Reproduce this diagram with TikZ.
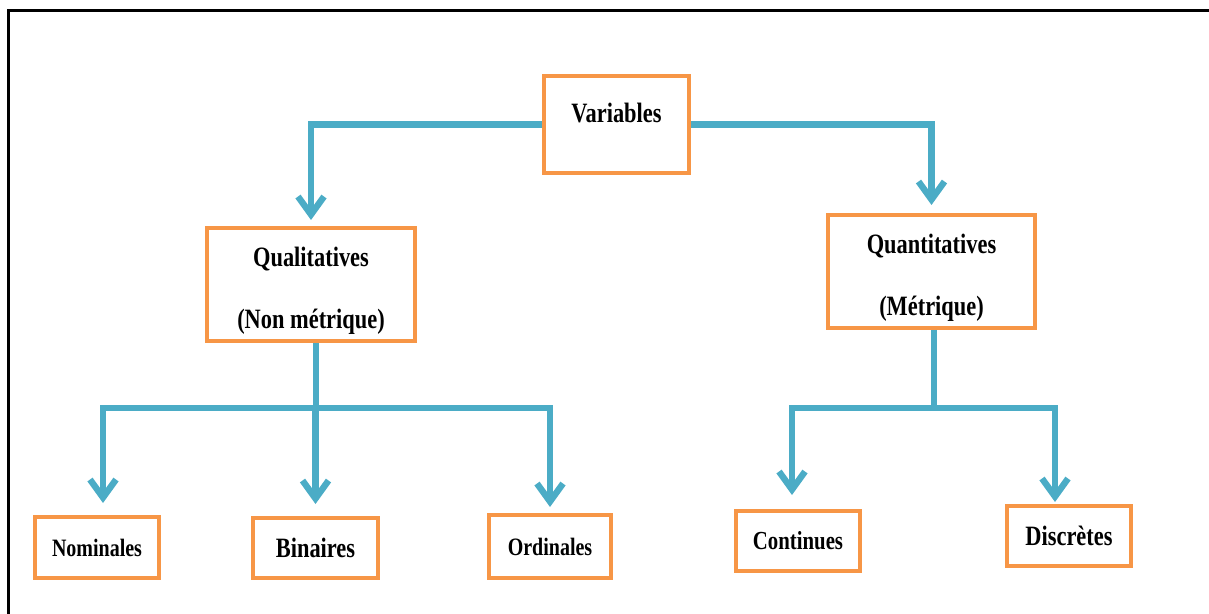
\documentclass[tikz,border=0pt]{standalone}
\usepackage{fontspec}
\setmainfont{Liberation Serif}[FakeStretch=0.8]
\usepackage{tikz}
\usetikzlibrary{arrows.meta}

\definecolor{boxorange}{HTML}{F79646}
\definecolor{linkblue}{HTML}{4BACC6}

\begin{document}
\begin{tikzpicture}[x=0.5pt, y=-0.5pt,
    box/.style = {draw=boxorange, line width=2pt, fill=white, inner sep=0pt, align=center, font=\bfseries},
    big/.style = {font=\bfseries\fontsize{14}{17}\selectfont},
    small/.style = {font=\bfseries\fontsize{12.5}{15}\selectfont},
    line/.style = {draw=linkblue, line width=3.2pt},
    link/.style = {line, -{Straight Barb[length=9pt,width=13pt]}, shorten >=3pt}]
            \useasboundingbox (0,0) rectangle (1209,614);
            \draw[line width=1.5pt] (8,630) -- (8,11) -- (1230,11);

            \node[box, big, minimum width=72.5pt, minimum height=48.5pt, text height=10pt, text depth=12pt] (var) at (616.5,124.5) {Variables};
            \node[box, big, minimum width=104pt, minimum height=56.5pt] (qual) at (311,284.5) {\rule{0pt}{16pt}Qualitatives\\[14pt](Non métrique)};
            \node[box, big, minimum width=103.5pt, minimum height=56.5pt] (quant) at (931.5,271.5) {\rule{0pt}{16pt}Quantitatives\\[14pt](Métrique)};

            \node[box, small, minimum width=62pt, minimum height=30.5pt] (nom) at (97,547.5) {Nominales};
            \node[box, big, minimum width=62.5pt, minimum height=30pt] (bin) at (315.5,548) {Binaires};
            \node[box, small, minimum width=61pt, minimum height=31.5pt] (ord) at (550,546.5) {Ordinales};
            \node[box, font=\bfseries\fontsize{13}{16}\selectfont, minimum width=62pt, minimum height=30pt] (cont) at (798,541) {Continues};
            \node[box, big, minimum width=62pt, minimum height=30pt] (disc) at (1069,536) {Discrètes};

            % branching points
            \coordinate (qbar) at (316,408);
            \coordinate (cbar) at (934,408);

            \path[link] (var.west) -| (qual.north);
            \path[link, shorten >=4pt] (var.east) -| (quant.north);

            \path[line] ([xshift=2.5pt]qual.south) -- (qbar);
            \path[link, shorten >=6pt] (qbar) -| ([xshift=3pt]nom.north);
            \path[link, shorten >=6pt] (qbar) -| (bin.north);
            \path[link] (qbar) -| (ord.north);

            \path[line] ([xshift=1.25pt]quant.south) -- (cbar);
            \path[link, shorten >=7pt] (cbar) -| ([xshift=-3pt]cont.north);
            \path[link, shorten >=1pt] (cbar) -| ([xshift=-7pt]disc.north);
        \end{tikzpicture}
\end{document}
